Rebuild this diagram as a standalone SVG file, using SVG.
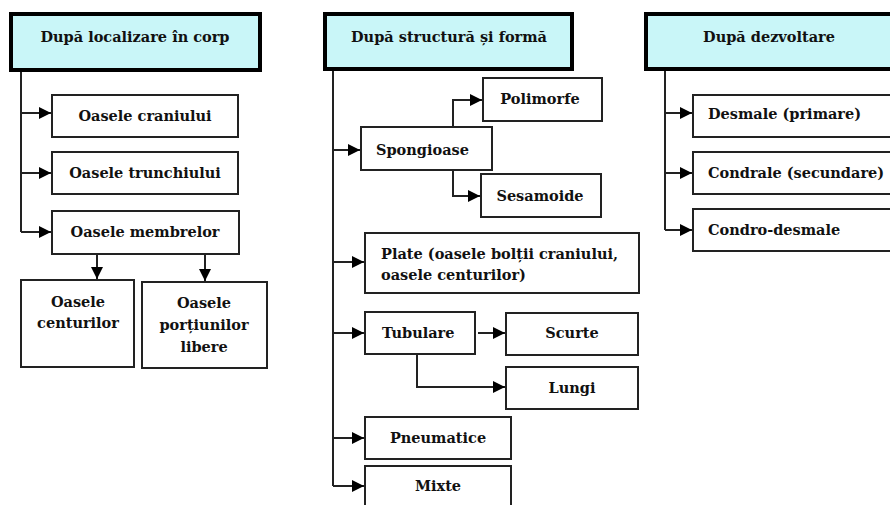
<svg xmlns="http://www.w3.org/2000/svg" width="890" height="505" viewBox="0 0 890 505">
<style>
.hdr{fill:#c9f6f8;stroke:#000;stroke-width:4}
.box{fill:#fff;stroke:#222;stroke-width:2}
.t{font-family:"DejaVu Serif","Liberation Serif",serif;font-weight:bold;font-size:14.5px;fill:#111}
.c{text-anchor:middle}
.ln{fill:none;stroke:#222;stroke-width:2}
</style>
<defs>
<marker id="ar" markerUnits="userSpaceOnUse" markerWidth="13" markerHeight="12" refX="12" refY="6" orient="auto">
<path d="M0,0 L12,6 L0,12 Z" fill="#000"/>
</marker>
</defs>
<rect width="890" height="505" fill="#fff"/>
<g id="connectors">
<path class="ln" d="M21,72 V232"/>
<path class="ln" d="M21,113 H51" marker-end="url(#ar)"/>
<path class="ln" d="M21,173 H51" marker-end="url(#ar)"/>
<path class="ln" d="M21,232 H51" marker-end="url(#ar)"/>
<path class="ln" d="M97,254 V279" marker-end="url(#ar)"/>
<path class="ln" d="M205,254 V281" marker-end="url(#ar)"/>
<path class="ln" d="M333,71 V486"/>
<path class="ln" d="M333,150 H360" marker-end="url(#ar)"/>
<path class="ln" d="M453,127 V100 H482" marker-end="url(#ar)"/>
<path class="ln" d="M453,170 V196 H480" marker-end="url(#ar)"/>
<path class="ln" d="M333,262 H364" marker-end="url(#ar)"/>
<path class="ln" d="M333,333 H364" marker-end="url(#ar)"/>
<path class="ln" d="M478,333 H505" marker-end="url(#ar)"/>
<path class="ln" d="M417,355 V387 H505" marker-end="url(#ar)"/>
<path class="ln" d="M333,438 H364" marker-end="url(#ar)"/>
<path class="ln" d="M333,486 H364" marker-end="url(#ar)"/>
<path class="ln" d="M665,71 V230"/>
<path class="ln" d="M665,113 H692" marker-end="url(#ar)"/>
<path class="ln" d="M665,173 H692" marker-end="url(#ar)"/>
<path class="ln" d="M665,230 H692" marker-end="url(#ar)"/>
</g>
<g id="h1"><rect class="hdr" x="11" y="14" width="249" height="56"/><text class="t c" x="135" y="42">După localizare în corp</text></g>
<g id="craniului"><rect class="box" x="52" y="95" width="186" height="42"/><text class="t c" x="145" y="121">Oasele craniului</text></g>
<g id="trunchiului"><rect class="box" x="52" y="152" width="186" height="42"/><text class="t c" x="145" y="178">Oasele trunchiului</text></g>
<g id="membrelor"><rect class="box" x="52" y="211" width="187" height="43"/><text class="t c" x="145" y="237">Oasele membrelor</text></g>
<g id="centurilor"><rect class="box" x="21" y="280" width="113" height="87"/><text class="t c" x="78" y="307">Oasele</text><text class="t c" x="78" y="328">centurilor</text></g>
<g id="portiunilor"><rect class="box" x="142" y="282" width="125" height="86"/><text class="t c" x="204" y="308">Oasele</text><text class="t c" x="204" y="330">porțiunilor</text><text class="t c" x="204" y="352">libere</text></g>
<g id="h2"><rect class="hdr" x="325" y="14" width="247" height="55"/><text class="t c" x="449" y="42">După structură și formă</text></g>
<g id="spongioase"><rect class="box" x="361" y="127" width="131" height="43"/><text class="t" x="376" y="155">Spongioase</text></g>
<g id="polimorfe"><rect class="box" x="483" y="78" width="119" height="43"/><text class="t c" x="540" y="104">Polimorfe</text></g>
<g id="sesamoide"><rect class="box" x="481" y="174" width="120" height="43"/><text class="t c" x="540" y="201">Sesamoide</text></g>
<g id="plate"><rect class="box" x="365" y="233" width="274" height="60"/><text class="t" x="381" y="259">Plate (oasele bolții craniului,</text><text class="t" x="381" y="280">oasele centurilor)</text></g>
<g id="tubulare"><rect class="box" x="365" y="312" width="110" height="42"/><text class="t" x="382" y="338">Tubulare</text></g>
<g id="scurte"><rect class="box" x="506" y="313" width="132" height="42"/><text class="t c" x="572" y="338">Scurte</text></g>
<g id="lungi"><rect class="box" x="506" y="367" width="132" height="42"/><text class="t c" x="572" y="393">Lungi</text></g>
<g id="pneumatice"><rect class="box" x="365" y="417" width="146" height="42"/><text class="t c" x="438" y="443">Pneumatice</text></g>
<g id="mixte"><rect class="box" x="365" y="466" width="146" height="42"/><text class="t c" x="438" y="491">Mixte</text></g>
<g id="h3"><rect class="hdr" x="646" y="14" width="254" height="55"/><text class="t c" x="769" y="42">După dezvoltare</text></g>
<g id="desmale"><rect class="box" x="693" y="95" width="210" height="42"/><text class="t" x="708" y="119">Desmale (primare)</text></g>
<g id="condrale"><rect class="box" x="693" y="152" width="210" height="42"/><text class="t" x="708" y="178">Condrale (secundare)</text></g>
<g id="condrodesmale"><rect class="box" x="693" y="209" width="210" height="42"/><text class="t" x="708" y="235">Condro-desmale</text></g>
</svg>
